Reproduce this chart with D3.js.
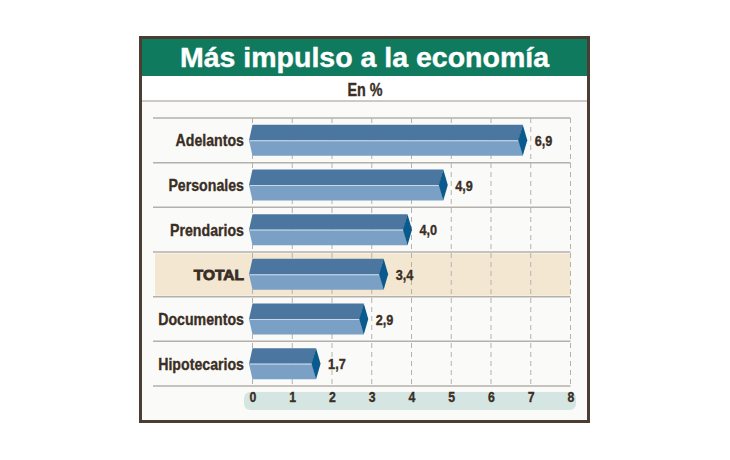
<!DOCTYPE html>
<html><head><meta charset="utf-8">
<script src="https://cdn.jsdelivr.net/npm/d3@7/dist/d3.min.js"></script>
<style>
html,body{margin:0;padding:0;background:#fff;}
svg{display:block;}
</style></head>
<body><svg id="c" width="730" height="460"></svg>
<script>
const title = "Más impulso a la economía";
const subtitle = "En %";
const categories = ["Adelantos","Personales","Prendarios","TOTAL","Documentos","Hipotecarios"];
const values = [6.9, 4.9, 4.0, 3.4, 2.9, 1.7];
const highlight = "TOTAL";
const tickValues = [0,1,2,3,4,5,6,7,8];

const svg = d3.select("#c");
const font = "'Liberation Sans', Arial, sans-serif";
const textCol = "#3a2e25";
const sx = 0.82;

function condText(parent, tx, ty, str, size, anchor){
  return parent.append("text")
    .attr("transform",`translate(${tx},${ty}) scale(${sx},1)`)
    .attr("text-anchor",anchor||"start")
    .attr("font-family",font).attr("font-weight","bold").attr("font-size",size)
    .attr("fill",textCol).attr("stroke",textCol).attr("stroke-width",0.35).text(str);
}

// frame
svg.append("rect").attr("x",140.5).attr("y",37.5).attr("width",448).attr("height",384)
  .attr("fill","#fafbf8").attr("stroke","#4a3d31").attr("stroke-width",3);
svg.append("rect").attr("x",142).attr("y",39).attr("width",445).attr("height",37).attr("fill","#0f7a5d");
svg.append("rect").attr("x",142).attr("y",76).attr("width",445).attr("height",25).attr("fill","#ffffff");
svg.append("line").attr("x1",142).attr("x2",587).attr("y1",101).attr("y2",101).attr("stroke","#a09692").attr("stroke-width",1.2);

svg.append("text").attr("x",364.5).attr("y",67).attr("text-anchor","middle")
  .attr("font-family",font).attr("font-weight","bold").attr("font-size",28.5).attr("fill","#fff")
  .attr("stroke","#fff").attr("stroke-width",0.4).text(title);
condText(svg, 365, 96, subtitle, 17.5, "middle");

const x = d3.scaleLinear().domain([0,8]).range([252.5,570.5]);
const y = d3.scaleBand().domain(categories).range([118,386]).padding(0);
const step = y.step();

// highlight row
svg.append("rect").attr("x",155).attr("y",y(highlight)+1.5).attr("width",x(8)-155).attr("height",step-2.5)
  .attr("fill","#f4e7d1");

// grid
svg.append("g").selectAll("line").data(tickValues).join("line")
  .attr("x1",d=>x(d)).attr("x2",d=>x(d)).attr("y1",118).attr("y2",386)
  .attr("stroke","#b5b2ae").attr("stroke-width",1).attr("stroke-dasharray","5,4");

// row separators
const seps = categories.map(c=>y(c)).concat([y(categories[categories.length-1])+step]);
svg.append("g").selectAll("line").data(seps).join("line")
  .attr("x1",153).attr("x2",570.5).attr("y1",d=>d).attr("y2",d=>d)
  .attr("stroke","#b4b0ac").attr("stroke-width",1.5);

// bars
const h = 15.5, notch = 3.5, dw = 4;
const g = svg.append("g");
categories.forEach((c,i)=>{
  const cy = y(c)+step/2;
  const x0 = x(0), xe = x(values[i]);
  const xc = xe - dw;
  g.append("path").attr("d",`M${x0},${cy-h}L${xc},${cy-h}L${xc-dw},${cy}L${x0-notch},${cy}Z`).attr("fill","#4b769f");
  g.append("path").attr("d",`M${x0-notch},${cy}L${xc-dw},${cy}L${xc},${cy+h}L${x0},${cy+h}Z`).attr("fill","#7aa0c5");
  g.append("line").attr("x1",x0-notch+1).attr("x2",xc-dw).attr("y1",cy+0.5).attr("y2",cy+0.5).attr("stroke","#c8d8e8").attr("stroke-width",1);
  g.append("path").attr("d",`M${xc},${cy-h}L${xe+0.5},${cy}L${xc},${cy+h}L${xc-dw-0.5},${cy}Z`).attr("fill","#0b5a8e");
  condText(g, xe+8, cy+5.5, d3.format(".1f")(values[i]).replace(".",","), 15.5);
  if(c===highlight){
    g.append("text").attr("x",244).attr("y",cy+6).attr("text-anchor","end")
      .attr("font-family",font).attr("font-weight","bold").attr("font-size",15.5)
      .attr("fill",textCol).attr("stroke",textCol).attr("stroke-width",0.9).text(c);
  } else {
    condText(g, 244, cy+6, c, 17.3, "end");
  }
});

// axis
svg.append("rect").attr("x",244).attr("y",392).attr("width",332).attr("height",18).attr("rx",6)
  .attr("fill","#d5e6e2");
const ax = svg.append("g").attr("transform","translate(0,388)")
  .call(d3.axisBottom(x).tickValues(tickValues).tickSize(0).tickFormat(d3.format("d")));
ax.select(".domain").remove();
ax.selectAll("text").attr("font-family",font).attr("font-weight","bold").attr("font-size",15).attr("fill",textCol)
  .attr("stroke",textCol).attr("stroke-width",0.35)
  .attr("transform",`scale(${sx},1)`);
</script></body></html>
